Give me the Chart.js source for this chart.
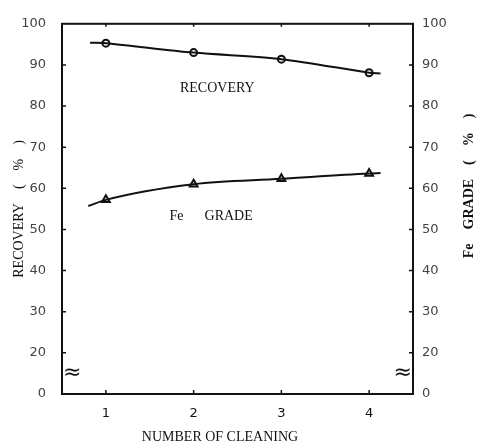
<!DOCTYPE html>
<html lang="en">
<head>
<meta charset="UTF-8">
<title>Recovery and Fe grade vs number of cleaning</title>
<script src="https://cdn.jsdelivr.net/npm/chart.js@4.4.0/dist/chart.umd.min.js"></script>
<style>
  html, body { margin: 0; padding: 0; background: #fff; }
  #wrap { width: 479px; height: 447px; }
</style>
</head>
<body>
<div id="wrap"><canvas id="myChart"></canvas></div>
<script>
// number of cleaning stages
var cleanings = [1, 2, 3, 4];
// measured points (%)
var recovery = [95.3, 93.0, 91.4, 88.1];
var feGrade = [57.2, 61.0, 62.3, 63.6];
// hand drawn fitted curves
var recoveryCurveX = [0.82, 1, 2, 3, 4, 4.13];
var recoveryCurveY = [95.4, 95.3, 93.0, 91.4, 88.1, 87.9];
var feCurveX = [0.8, 1, 2, 3, 4, 4.13];
var feCurveY = [55.7, 57.2, 61.0, 62.3, 63.6, 63.7];
// axis ticks (broken axis: bottom tick is labelled 0)
var xTicks = [1, 2, 3, 4];
var yTicks = [10, 20, 30, 40, 50, 60, 70, 80, 90, 100];
var yTickLabels = ['0', '20', '30', '40', '50', '60', '70', '80', '90', '100'];

var INK = '#111';
var SERIF = '"Liberation Serif", "DejaVu Serif", serif';

function pairs(xs, ys) {
  return xs.map(function (v, i) { return { x: v, y: ys[i] }; });
}

function yLabel(value) {
  var i = yTicks.indexOf(value);
  return i < 0 ? '' : yTickLabels[i];
}

// frame, inward ticks, axis breaks and the free text labels
var extras = {
  id: 'extras',
  afterDraw: function (chart) {
    var ctx = chart.ctx, a = chart.chartArea;
    var x = chart.scales.x, y = chart.scales.y;
    ctx.save();
    ctx.strokeStyle = INK;
    ctx.lineWidth = 2;
    ctx.strokeRect(a.left, a.top, a.right - a.left, a.bottom - a.top);

    ctx.lineWidth = 1.5;
    ctx.beginPath();
    yTicks.forEach(function (v) {
      if (v === 10 || v === 100) return;
      var py = y.getPixelForValue(v);
      ctx.moveTo(a.left, py); ctx.lineTo(a.left + 4, py);
      ctx.moveTo(a.right, py); ctx.lineTo(a.right - 4, py);
    });
    xTicks.forEach(function (v) {
      var px = x.getPixelForValue(v);
      ctx.moveTo(px, a.bottom); ctx.lineTo(px, a.bottom - 4);
      ctx.moveTo(px, a.top); ctx.lineTo(px, a.top + 3);
    });
    ctx.stroke();

    // axis break marks
    ctx.fillStyle = INK;
    ctx.font = '22px "DejaVu Sans"';
    ctx.textBaseline = 'middle';
    var by = y.getPixelForValue(15);
    ctx.textAlign = 'left';
    ctx.fillText('\u2248', a.left + 1, by);
    ctx.textAlign = 'right';
    ctx.fillText('\u2248', a.right - 1, by);

    // curve labels
    ctx.font = '14px ' + SERIF;
    ctx.textAlign = 'center';
    ctx.fillText('RECOVERY', x.getPixelForValue(2.27), y.getPixelForValue(84.2));
    ctx.fillText('Fe\u2003\u2002GRADE', x.getPixelForValue(2.2), y.getPixelForValue(53.3));

    // x axis title
    ctx.fillText('NUMBER OF CLEANING', 220, 437);

    // right axis title, reads bottom to top
    ctx.font = 'bold 14px ' + SERIF;
    ctx.translate(469, (a.top + a.bottom) / 2 - 23);
    ctx.rotate(-Math.PI / 2);
    ctx.fillText('Fe\u2003GRADE\u2003(\u2003%\u2003)', 0, 0);
    ctx.restore();
  }
};

var tickFont = { family: '"DejaVu Sans"', size: 13 };

var ctx = document.getElementById('myChart').getContext('2d');
var myChart = new Chart(ctx, {
  type: 'line',
  data: {
    datasets: [
      {
        label: 'Recovery curve',
        data: pairs(recoveryCurveX, recoveryCurveY),
        borderColor: INK, borderWidth: 2,
        pointRadius: 0, tension: 0.3
      },
      {
        label: 'Fe grade curve',
        data: pairs(feCurveX, feCurveY),
        borderColor: INK, borderWidth: 2,
        pointRadius: 0, cubicInterpolationMode: 'monotone'
      },
      {
        label: 'Recovery',
        data: pairs(cleanings, recovery),
        showLine: false,
        pointStyle: 'circle', pointRadius: 3.5,
        pointBackgroundColor: '#fff', pointBorderColor: INK, pointBorderWidth: 2
      },
      {
        label: 'Fe grade',
        data: pairs(cleanings, feGrade),
        yAxisID: 'y2',
        showLine: false,
        pointStyle: 'triangle', pointRadius: 4.5,
        pointBackgroundColor: '#fff', pointBorderColor: INK, pointBorderWidth: 2
      }
    ]
  },
  options: {
    responsive: true,
    maintainAspectRatio: false,
    animation: false,
    layout: { padding: { top: 12, left: 0, right: 0, bottom: 0 } },
    plugins: { legend: { display: false }, tooltip: { enabled: false } },
    scales: {
      x: {
        type: 'linear', min: 0.5, max: 4.5,
        grid: { display: false, drawTicks: false },
        border: { display: false },
        afterBuildTicks: function (s) { s.ticks = xTicks.map(function (v) { return { value: v }; }); },
        afterFit: function (s) { s.height = 53; },
        ticks: { color: INK, padding: 12, font: tickFont, maxRotation: 0 }
      },
      y: {
        type: 'linear', position: 'left', min: 10, max: 100,
        grid: { display: false, drawTicks: false },
        border: { display: false },
        afterBuildTicks: function (s) { s.ticks = yTicks.map(function (v) { return { value: v }; }); },
        afterFit: function (s) { s.width = 62; },
        ticks: { color: '#444', padding: 16, font: tickFont, callback: yLabel },
        title: {
          display: true, text: 'RECOVERY\u2003(\u2003%\u2003)', color: INK,
          font: { family: SERIF, size: 14 }, padding: { top: 11, bottom: 0 }
        }
      },
      y2: {
        type: 'linear', position: 'right', min: 10, max: 100,
        grid: { display: false, drawTicks: false },
        border: { display: false },
        afterBuildTicks: function (s) { s.ticks = yTicks.map(function (v) { return { value: v }; }); },
        afterFit: function (s) { s.width = 66; },
        ticks: { color: '#444', padding: 9, font: tickFont, callback: yLabel }
      }
    }
  },
  plugins: [extras]
});
</script>
</body>
</html>
